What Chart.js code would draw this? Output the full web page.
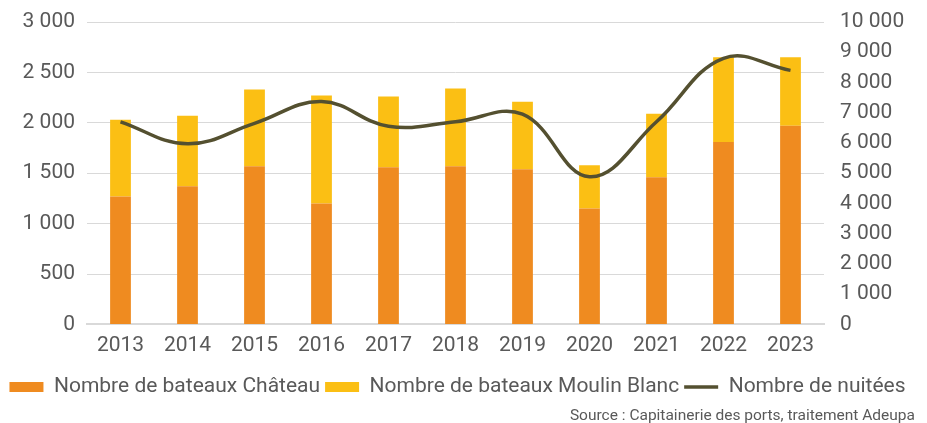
<!DOCTYPE html>
<html lang="fr">
<head>
<meta charset="utf-8">
<title>Bateaux et nuitées</title>
<script src="https://cdn.jsdelivr.net/npm/chart.js@4/dist/chart.umd.min.js"></script>
<style>
  html, body { margin: 0; padding: 0; background: #fff; }
  #wrap { position: relative; width: 927px; height: 423px; overflow: hidden; }
</style>
</head>
<body>
<div id="wrap"><canvas id="chart" width="927" height="423"></canvas></div>
<script>
  "use strict";

  const years = ["2013", "2014", "2015", "2016", "2017", "2018", "2019", "2020", "2021", "2022", "2023"];
  const bateauxChateau = [1270, 1370, 1570, 1200, 1560, 1570, 1540, 1150, 1460, 1810, 1970];
  const bateauxMoulinBlanc = [760, 700, 760, 1070, 700, 770, 670, 430, 630, 840, 680];
  const nuitees = [6700, 5970, 6650, 7370, 6550, 6700, 6950, 4880, 6700, 8800, 8400];
  const leftTicks = [0, 500, 1000, 1500, 2000, 2500, 3000];
  const rightTicks = [0, 1000, 2000, 3000, 4000, 5000, 6000, 7000, 8000, 9000, 10000];
  const sourceText = "Source : Capitainerie des ports, traitement Adeupa";

  const grey = "#595959";
  const gridGrey = "#d9d9d9";
  const font = "Roboto";

  function spaced(value) {
    return String(value).replace(/\B(?=(\d{3})+(?!\d))/g, " ");
  }

  function fixTicks(list) {
    return (scale) => {
      scale.ticks = list.map((value) => ({ value }));
    };
  }

  // fixed axis width, and no extra room for the half labels at the ends
  function fitSide(width) {
    return (scale) => {
      scale.width = width;
      scale.paddingTop = 0;
      scale.paddingBottom = 0;
    };
  }

  const legendDefaults = Chart.defaults.plugins.legend.labels.generateLabels;

  new Chart(document.getElementById("chart"), {
    type: "bar",
    data: {
      labels: years,
      datasets: [
        {
          label: "Nombre de bateaux Château",
          data: bateauxChateau,
          backgroundColor: "#ef8b20",
          borderWidth: 0,
          barPercentage: 0.31,
          categoryPercentage: 1,
          yAxisID: "y",
          order: 1
        },
        {
          label: "Nombre de bateaux Moulin Blanc",
          data: bateauxMoulinBlanc,
          backgroundColor: "#fbbf14",
          borderWidth: 0,
          barPercentage: 0.31,
          categoryPercentage: 1,
          yAxisID: "y",
          order: 1
        },
        {
          type: "line",
          label: "Nombre de nuitées",
          data: nuitees,
          borderColor: "#545030",
          backgroundColor: "#545030",
          borderWidth: 3.5,
          pointRadius: 0,
          tension: 0.4,
          yAxisID: "y1",
          order: 0
        }
      ]
    },
    options: {
      responsive: false,
      animation: false,
      layout: { padding: { top: 22, right: 12, left: 0, bottom: 0 } },
      plugins: {
        tooltip: { enabled: false },
        legend: {
          position: "bottom",
          labels: {
            color: grey,
            font: { family: font, size: 21 },
            usePointStyle: true,
            pointStyleWidth: 34,
            boxHeight: 10,
            padding: 5,
            sort: (a, b) => a.datasetIndex - b.datasetIndex,
            generateLabels: (chart) => legendDefaults(chart).map((item) => {
              item.pointStyle = item.datasetIndex === 2 ? "line" : "rect";
              if (item.datasetIndex !== 2) item.lineWidth = 0;
              return item;
            })
          }
        },
        subtitle: {
          display: true,
          text: sourceText,
          position: "bottom",
          align: "end",
          color: grey,
          font: { family: font, size: 15.5, weight: "normal" },
          padding: { top: -1, bottom: -2 }
        }
      },
      scales: {
        x: {
          stacked: true,
          afterFit: (scale) => { scale.height = 47; },
          grid: { display: false, drawTicks: false },
          border: { color: gridGrey, width: 2 },
          ticks: { color: grey, font: { family: font, size: 21 }, padding: 9 }
        },
        y: {
          stacked: true,
          position: "left",
          min: 0,
          max: 3000,
          afterBuildTicks: fixTicks(leftTicks),
          afterFit: fitSide(87),
          grid: { color: gridGrey, lineWidth: 1, drawTicks: false },
          border: { display: false },
          ticks: {
            color: grey,
            font: { family: font, size: 21 },
            padding: 12,
            callback: (value) => spaced(value)
          }
        },
        y1: {
          position: "right",
          min: 0,
          max: 10000,
          afterBuildTicks: fixTicks(rightTicks),
          afterFit: fitSide(91),
          grid: { drawOnChartArea: false, drawTicks: false },
          border: { display: false },
          ticks: {
            color: grey,
            font: { family: font, size: 21 },
            padding: 16,
            callback: (value) => spaced(value)
          }
        }
      }
    }
  });
</script>
</body>
</html>
